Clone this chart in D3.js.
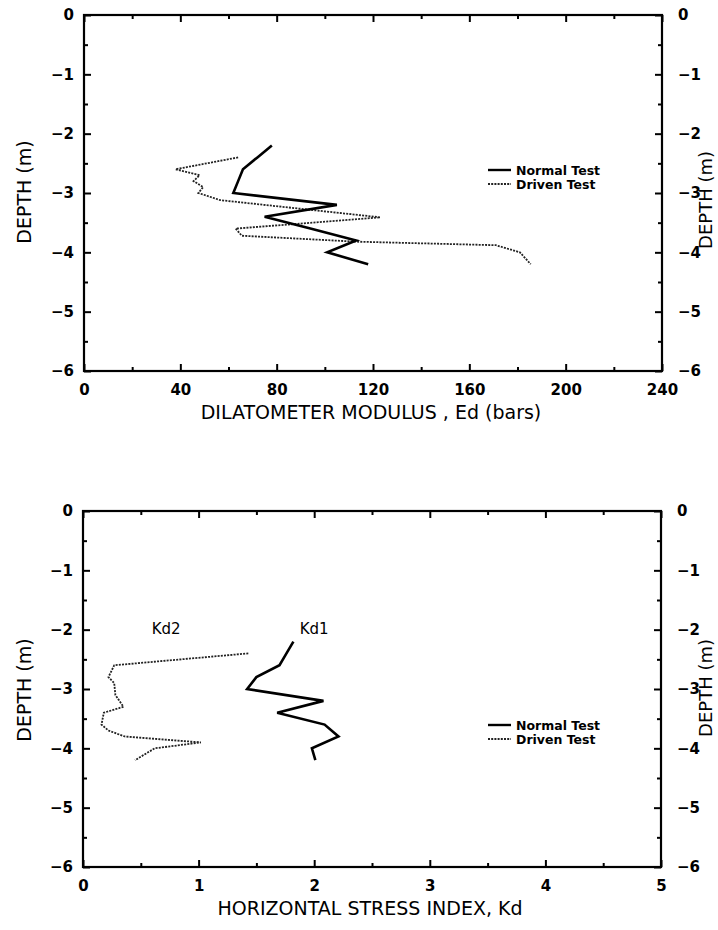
<!DOCTYPE html>
<html><head><meta charset="utf-8">
<script src="https://cdn.jsdelivr.net/npm/d3@7/dist/d3.min.js"></script>
<style>
body{margin:0;background:#fff;}
svg{display:block;}
.tick text{font-family:"DejaVu Sans",sans-serif;font-weight:bold;font-size:15px;fill:#000;}
</style></head>
<body>
<svg id="chart" width="718" height="930"></svg>
<script>
// ---------- data ----------
const depthTicks = [0, -1, -2, -3, -4, -5, -6];
const depthMinor = [-0.5, -1.5, -2.5, -3.5, -4.5, -5.5];
const edTicks = [0, 40, 80, 120, 160, 200, 240];
const edMinor = [20, 60, 100, 140, 180, 220];
const kdTicks = [0, 1, 2, 3, 4, 5];
const kdMinor = [0.5, 1.5, 2.5, 3.5, 4.5];

// Dilatometer modulus Ed (bars) vs depth (m)
const edNormalDepth = [-2.2, -2.4, -2.6, -2.8, -3.0, -3.2, -3.4, -3.6, -3.8, -4.0, -4.2];
const edNormalValue = [78, 72, 66, 64, 62, 105, 75, 94, 113, 101, 118];
const edDrivenDepth = [-2.4, -2.6, -2.7, -2.8, -2.9, -3.0, -3.12, -3.41, -3.6, -3.72, -3.82, -3.88, -4.0, -4.2];
const edDrivenValue = [64, 38, 48, 45.5, 49.5, 47.5, 56.5, 123, 63, 65.5, 113, 171, 181, 185.5];

// Horizontal stress index Kd vs depth (m)
const kdNormalDepth = [-2.2, -2.4, -2.6, -2.8, -3.0, -3.2, -3.4, -3.6, -3.8, -4.0, -4.2];
const kdNormalValue = [1.82, 1.76, 1.70, 1.50, 1.42, 2.08, 1.68, 2.09, 2.21, 1.98, 2.01];
const kdDrivenDepth = [-2.4, -2.6, -2.8, -2.9, -3.1, -3.3, -3.4, -3.6, -3.7, -3.8, -3.9, -4.0, -4.2];
const kdDrivenValue = [1.43, 0.27, 0.22, 0.27, 0.28, 0.35, 0.18, 0.16, 0.22, 0.36, 1.02, 0.62, 0.45];

const legendLabels = ["Normal Test", "Driven Test"];

// ---------- drawing ----------
const svg = d3.select("#chart");
const FONT = '"DejaVu Sans", sans-serif';

function fmt(d){ return d3.format("")(d); }

function panel(o){
  const x = d3.scaleLinear().domain(o.xDomain).range([o.x0, o.x1]);
  const y = d3.scaleLinear().domain([0, -6]).range([o.y0, o.y1]);
  const g = svg.append("g");

  const addAxis = (axis, tr) => {
    const a = g.append("g").attr("transform", tr).call(axis);
    a.select(".domain").remove();
    a.selectAll(".tick line").attr("stroke", "#000").attr("stroke-width", 2);
    return a;
  };
  addAxis(d3.axisBottom(x).tickValues(o.xTicks).tickSize(-7).tickPadding(13).tickFormat(fmt), `translate(0,${o.y1})`);
  addAxis(d3.axisBottom(x).tickValues(o.xMinor).tickSize(-4).tickFormat(""), `translate(0,${o.y1})`);
  addAxis(d3.axisTop(x).tickValues(o.xTicks).tickSize(-7).tickFormat(""), `translate(0,${o.y0})`);
  addAxis(d3.axisTop(x).tickValues(o.xMinor).tickSize(-4).tickFormat(""), `translate(0,${o.y0})`);
  addAxis(d3.axisLeft(y).tickValues(depthTicks).tickSize(-7).tickPadding(10).tickFormat(fmt), `translate(${o.x0},0)`);
  addAxis(d3.axisLeft(y).tickValues(depthMinor).tickSize(-4).tickFormat(""), `translate(${o.x0},0)`);
  addAxis(d3.axisRight(y).tickValues(depthTicks).tickSize(-7).tickPadding(16).tickFormat(fmt), `translate(${o.x1},0)`);
  addAxis(d3.axisRight(y).tickValues(depthMinor).tickSize(-4).tickFormat(""), `translate(${o.x1},0)`);

  // frame
  g.append("rect").attr("x", o.x0).attr("y", o.y0)
    .attr("width", o.x1 - o.x0).attr("height", o.y1 - o.y0)
    .attr("fill", "none").attr("stroke", "#000").attr("stroke-width", 2.2);

  const line = d3.line().x(d => x(d[0])).y(d => y(d[1]));
  const normal = o.nVal.map((v, i) => [v, o.nDep[i]]);
  const driven = o.dVal.map((v, i) => [v, o.dDep[i]]);
  g.append("path").datum(driven).attr("d", line).attr("fill", "none")
    .attr("stroke", "#222").attr("stroke-width", 1.8).attr("stroke-dasharray", "2,1.2");
  g.append("path").datum(normal).attr("d", line).attr("fill", "none")
    .attr("stroke", "#000").attr("stroke-width", 2.6).attr("stroke-linejoin", "miter");

  // legend
  legendLabels.forEach((t, i) => {
    const ly = o.legY + i * 14;
    g.append("line").attr("x1", 488).attr("x2", 511).attr("y1", ly).attr("y2", ly)
      .attr("stroke", i ? "#222" : "#000").attr("stroke-width", i ? 1.8 : 2.4)
      .attr("stroke-dasharray", i ? "2,1.2" : null);
    g.append("text").attr("x", 516).attr("y", ly + 4.5).text(t)
      .attr("font-family", FONT).attr("font-weight", "bold").attr("font-size", 12.5);
  });

  // axis titles
  g.append("text").attr("x", (o.x0 + o.x1) / 2 - 2).attr("y", o.y1 + 48)
    .attr("text-anchor", "middle").attr("font-family", FONT).attr("font-size", 19)
    .text(o.xTitle);
  g.append("text").attr("transform", `translate(31,${o.yMid}) rotate(-90)`)
    .attr("text-anchor", "middle").attr("font-family", FONT).attr("font-size", 19)
    .text("DEPTH (m)");
  g.append("text").attr("transform", `translate(712,${o.yMidR}) rotate(-90)`)
    .attr("text-anchor", "middle").attr("font-family", FONT).attr("font-size", 18)
    .text("DEPTH (m)");
  return {x, y, g};
}

panel({
  xDomain: [0, 240], x0: 84, x1: 662, y0: 15, y1: 371,
  xTicks: edTicks, xMinor: edMinor,
  nVal: edNormalValue, nDep: edNormalDepth, dVal: edDrivenValue, dDep: edDrivenDepth,
  legY: 170, xTitle: "DILATOMETER MODULUS , Ed (bars)", yMid: 192, yMidR: 200
});

const p2 = panel({
  xDomain: [0, 5], x0: 83, x1: 661, y0: 511, y1: 867,
  xTicks: kdTicks, xMinor: kdMinor,
  nVal: kdNormalValue, nDep: kdNormalDepth, dVal: kdDrivenValue, dDep: kdDrivenDepth,
  legY: 725, xTitle: "HORIZONTAL STRESS INDEX, Kd", yMid: 690, yMidR: 688
});

// curve labels
p2.g.append("text").attr("x", p2.x(0.72)).attr("y", p2.y(-2.08)).attr("text-anchor", "middle")
  .attr("font-family", FONT).attr("font-size", 15).text("Kd2");
p2.g.append("text").attr("x", p2.x(2.0)).attr("y", p2.y(-2.08)).attr("text-anchor", "middle")
  .attr("font-family", FONT).attr("font-size", 15).text("Kd1");
</script>
</body></html>
